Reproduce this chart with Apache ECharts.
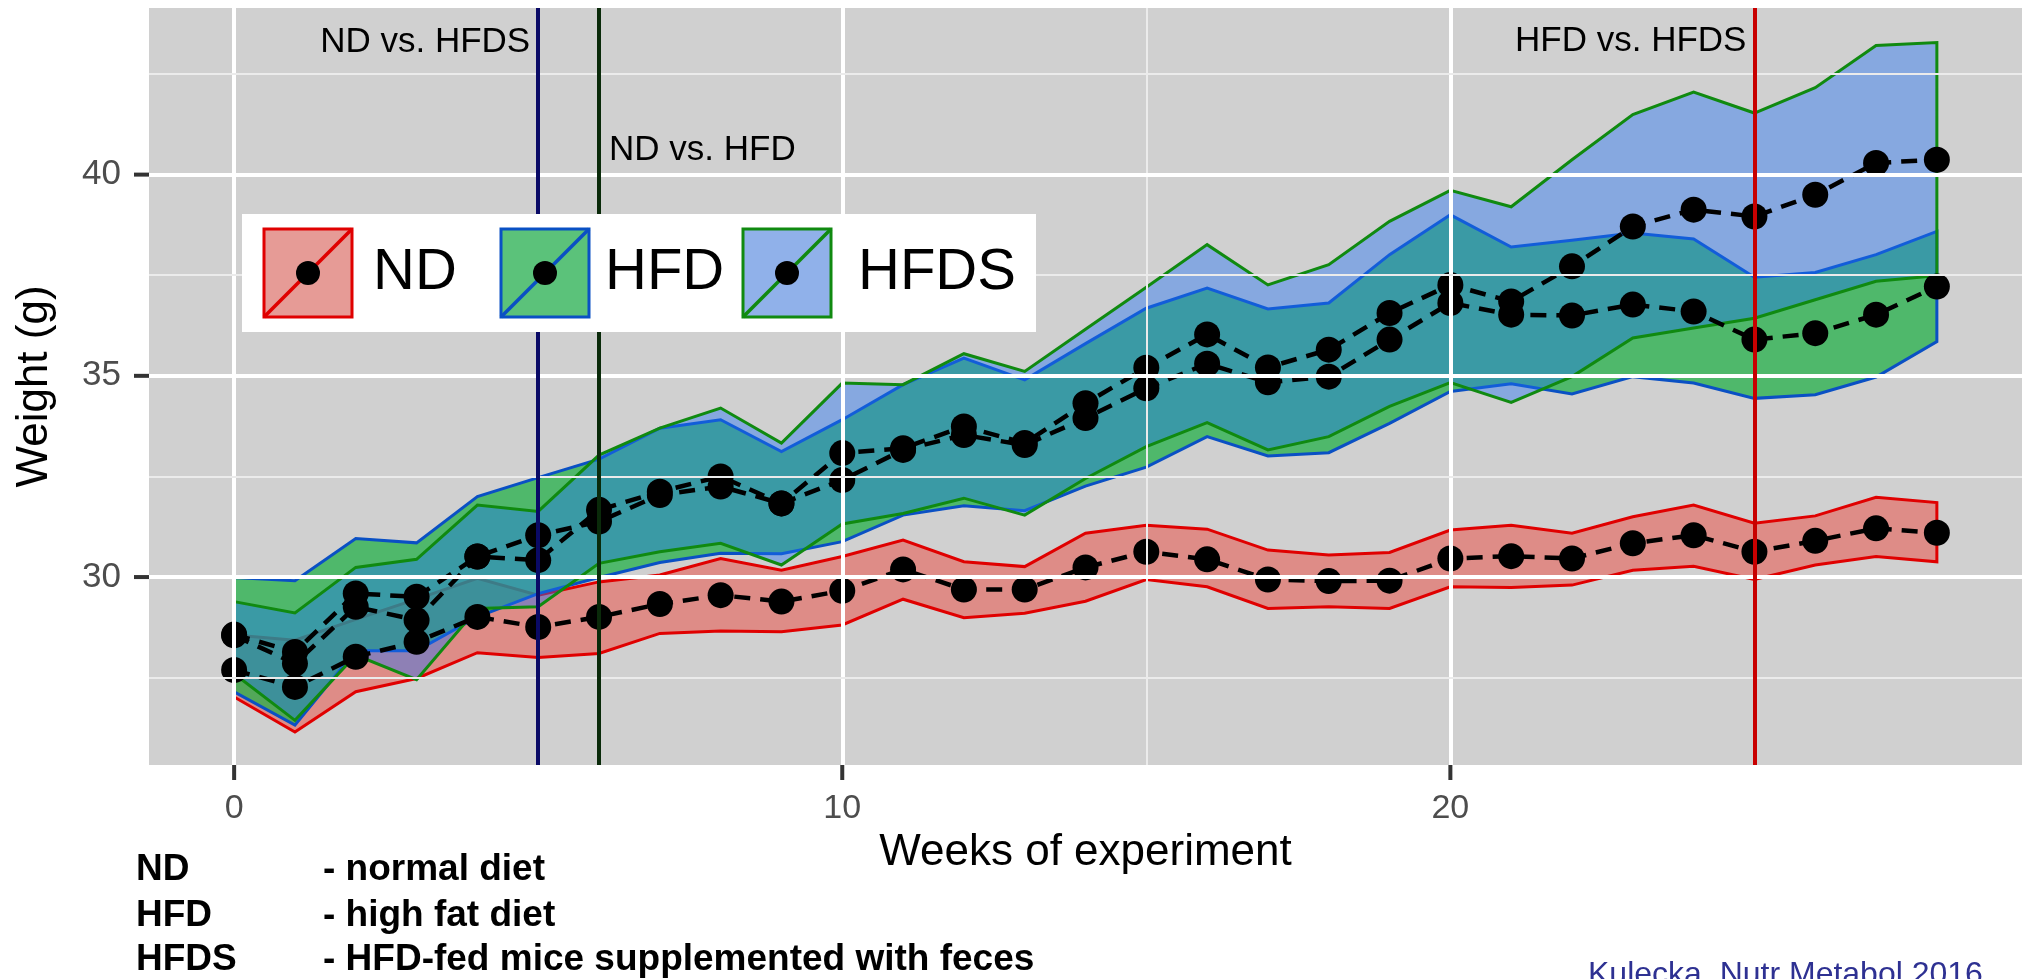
<!DOCTYPE html>
<html>
<head>
<meta charset="utf-8">
<title>Weight of mice</title>
<script src="https://cdn.jsdelivr.net/npm/echarts@6.0.0/dist/echarts.min.js"></script>
<style>
  html, body { margin: 0; padding: 0; background: #fff; }
  #chart { width: 2028px; height: 979px; }
</style>
</head>
<body>
<div id="chart"></div>
<script>
const FONT = '"Liberation Sans", Arial, Helvetica, sans-serif';

const weeks = [0, 1, 2, 3, 4, 5, 6, 7, 8, 9, 10, 11, 12, 13, 14, 15, 16, 17, 18, 19, 20, 21, 22, 23, 24, 25, 26, 27, 28];

const ndMean  = [27.69, 27.27, 28.02, 28.39, 29.01, 28.76, 29.01, 29.33, 29.55, 29.39, 29.66, 30.19, 29.69, 29.69, 30.24, 30.63, 30.44, 29.94, 29.90, 29.91, 30.46, 30.52, 30.46, 30.84, 31.04, 30.63, 30.90, 31.21, 31.10];
const ndUpper = [28.56, 28.43, 28.95, 29.45, 29.97, 29.55, 29.88, 30.05, 30.46, 30.17, 30.51, 30.92, 30.38, 30.26, 31.09, 31.29, 31.19, 30.67, 30.55, 30.61, 31.17, 31.29, 31.09, 31.50, 31.79, 31.34, 31.52, 31.98, 31.85];
const ndLower = [27.02, 26.15, 27.15, 27.48, 28.12, 28.00, 28.10, 28.60, 28.66, 28.64, 28.81, 29.45, 28.99, 29.10, 29.40, 29.94, 29.76, 29.22, 29.26, 29.22, 29.76, 29.74, 29.80, 30.17, 30.27, 29.94, 30.30, 30.51, 30.38];

const hfdMean  = [28.57, 28.14, 29.59, 29.51, 30.51, 31.04, 31.38, 32.04, 32.25, 31.83, 32.41, 33.16, 33.53, 33.28, 33.95, 34.69, 35.30, 34.84, 34.98, 35.90, 36.81, 36.52, 36.50, 36.77, 36.60, 35.90, 36.06, 36.52, 37.22];
const hfdUpper = [29.99, 29.91, 30.96, 30.85, 32.00, 32.47, 32.93, 33.70, 33.91, 33.12, 33.91, 34.78, 35.44, 34.90, 35.80, 36.68, 37.18, 36.66, 36.81, 38.01, 39.00, 38.20, 38.37, 38.55, 38.40, 37.45, 37.57, 38.01, 38.59];
const hfdLower = [27.15, 26.32, 28.17, 28.17, 29.01, 29.59, 29.99, 30.36, 30.59, 30.58, 30.88, 31.54, 31.77, 31.65, 32.26, 32.73, 33.49, 33.01, 33.09, 33.82, 34.61, 34.80, 34.55, 34.98, 34.82, 34.44, 34.53, 34.97, 35.85];

const hfdsMean  = [28.55, 27.85, 29.26, 28.93, 30.51, 30.42, 31.67, 32.12, 32.50, 31.83, 33.08, 33.20, 33.74, 33.33, 34.32, 35.20, 36.03, 35.21, 35.65, 36.56, 37.26, 36.85, 37.72, 38.71, 39.13, 38.96, 39.50, 40.29, 40.37];
const hfdsUpper = [29.39, 29.11, 30.24, 30.44, 31.79, 31.63, 33.03, 33.70, 34.20, 33.33, 34.82, 34.78, 35.55, 35.11, 36.16, 37.20, 38.26, 37.26, 37.76, 38.84, 39.61, 39.20, 40.37, 41.49, 42.05, 41.53, 42.16, 43.21, 43.28];
const hfdsLower = [27.60, 26.44, 28.06, 27.45, 29.22, 29.26, 30.34, 30.63, 30.84, 30.30, 31.32, 31.58, 31.96, 31.54, 32.45, 33.24, 33.84, 33.16, 33.49, 34.24, 34.83, 34.34, 34.98, 35.94, 36.19, 36.43, 36.89, 37.35, 37.49];

const xTicks = [0, 10, 20];
const xMinor = [5, 15, 25];
const yTicks = [30, 35, 40];
const yMinor = [27.5, 32.5, 37.5, 42.5];

// week of each significance line and its label
const vlineWeeks = [5, 6, 25];
const vlineLabels = ['ND vs. HFDS', 'ND vs. HFD', 'HFD vs. HFDS'];

const groups = ['ND', 'HFD', 'HFDS'];
const groupInfo = ['- normal diet', '- high fat diet', '- HFD-fed mice supplemented with feces'];
const citation = 'Kulecka, Nutr Metabol 2016';

const GRID = { left: 149, top: 8, width: 1873, height: 757 };

const chart = echarts.init(document.getElementById('chart'));

const pairs = (ys) => weeks.map((w, i) => [w, ys[i]]);

function ribbon(name, upper, lower, fill, stroke) {
  return {
    type: 'custom',
    name: name,
    z: 2,
    silent: true,
    data: [[weeks[0], lower[0]]],
    renderItem: function (params, api) {
      const pts = [];
      for (let i = 0; i < weeks.length; i++) pts.push(api.coord([weeks[i], upper[i]]));
      for (let i = weeks.length - 1; i >= 0; i--) pts.push(api.coord([weeks[i], lower[i]]));
      return {
        type: 'polygon',
        shape: { points: pts },
        style: { fill: fill, stroke: stroke, lineWidth: 3 }
      };
    }
  };
}

function meanLine(ys) {
  return {
    type: 'line', z: 3, silent: true, data: pairs(ys),
    symbol: 'none',
    lineStyle: { color: '#000', width: 4.5, type: [16, 10] }
  };
}

function meanPoints(ys) {
  return {
    type: 'scatter', z: 4, silent: true, data: pairs(ys),
    symbol: 'circle', symbolSize: 26,
    itemStyle: { color: '#000', opacity: 1 }
  };
}

const gridLines = [];
xTicks.forEach(v => gridLines.push({ xAxis: v, lineStyle: { color: '#fff', width: 4, type: 'solid' } }));
xMinor.forEach(v => gridLines.push({ xAxis: v, lineStyle: { color: '#ebebeb', width: 2, type: 'solid' } }));
yTicks.forEach(v => gridLines.push({ yAxis: v, lineStyle: { color: '#fff', width: 4, type: 'solid' } }));
yMinor.forEach(v => gridLines.push({ yAxis: v, lineStyle: { color: '#ebebeb', width: 2, type: 'solid' } }));

const vlineColors = ['#0a0a66', '#0a2a0a', '#c80000'];

const hiddenLine = { show: true, onZero: false, lineStyle: { color: 'rgba(0,0,0,0)' } };

chart.setOption({
  animation: false,
  backgroundColor: '#fff',
  grid: Object.assign({ show: true, backgroundColor: '#d0d0d0', borderWidth: 0 }, GRID),
  xAxis: {
    type: 'value', min: -1.4, max: 29.4,
    axisLine: hiddenLine,
    axisTick: { show: false },
    axisLabel: { customValues: xTicks, fontSize: 34, color: '#4d4d4d', margin: 27, fontFamily: FONT },
    splitLine: { show: false },
    name: 'Weeks of experiment', nameLocation: 'middle', nameGap: 62,
    nameTextStyle: { fontSize: 44, color: '#000', fontFamily: FONT }
  },
  yAxis: {
    type: 'value', min: 25.33, max: 44.14,
    axisLine: hiddenLine,
    axisTick: { show: false },
    axisLabel: { customValues: yTicks, fontSize: 35, color: '#4d4d4d', margin: 28, fontFamily: FONT },
    splitLine: { show: false },
    name: 'Weight (g)', nameLocation: 'middle', nameGap: 92, nameRotate: 90,
    nameTextStyle: { fontSize: 44, color: '#000', fontFamily: FONT }
  },
  series: [
    {
      type: 'line', z: 1, silent: true, data: [],
      markLine: { silent: true, symbol: 'none', label: { show: false }, data: gridLines, animation: false }
    },
    ribbon('ND', ndUpper, ndLower, 'rgba(233,84,75,0.55)', '#e00000'),
    ribbon('HFD', hfdUpper, hfdLower, 'rgba(36,176,73,0.75)', '#0a50c4'),
    ribbon('HFDS', hfdsUpper, hfdsLower, 'rgba(30,113,246,0.42)', '#108a10'),
    meanLine(ndMean), meanLine(hfdMean), meanLine(hfdsMean),
    meanPoints(ndMean), meanPoints(hfdMean), meanPoints(hfdsMean),
    {
      type: 'line', z: 5, silent: true, data: [],
      markLine: {
        silent: true, symbol: 'none', label: { show: false }, animation: false,
        data: vlineWeeks.map((w, i) => ({ xAxis: w, lineStyle: { color: vlineColors[i], width: 4, type: 'solid' } }))
      }
    }
  ]
});

// ticks, annotations, legend box and footnotes
const px = (w) => chart.convertToPixel({ xAxisIndex: 0 }, w);
const py = (v) => chart.convertToPixel({ yAxisIndex: 0 }, v);
const g = [];

const panelBottom = GRID.top + GRID.height;
const TICK = 15, TW = 4;
xTicks.forEach(v => g.push({ type: 'rect', z: 10,
  shape: { x: px(v) - TW / 2, y: panelBottom, width: TW, height: TICK },
  style: { fill: '#333' } }));
yTicks.forEach(v => g.push({ type: 'rect', z: 10,
  shape: { x: GRID.left - TICK, y: py(v) - TW / 2, width: TICK, height: TW },
  style: { fill: '#333' } }));

const annoY = [42, 150, 41];
const annoAlign = ['right', 'left', 'right'];
vlineLabels.forEach((t, i) => {
  const off = annoAlign[i] === 'right' ? -8 : 10;
  g.push({
    type: 'text', z: 20,
    x: px(vlineWeeks[i]) + off, y: annoY[i],
    style: { text: t, fill: '#000', font: '35px ' + FONT, align: annoAlign[i], verticalAlign: 'middle' }
  });
});

// legend
const keyFill = ['#e69b96', '#5bc27a', '#90b1ea'];
const keyStroke = ['#e00000', '#0a50c4', '#108a10'];
const keyX = [264, 501, 743];
const textX = [373, 605, 858];
const keyY = 229, keyS = 88;
g.push({ type: 'rect', z: 30, shape: { x: 242, y: 214, width: 794, height: 118 }, style: { fill: '#fff' } });
groups.forEach((name, i) => {
  g.push({ type: 'rect', z: 31, shape: { x: keyX[i], y: keyY, width: keyS, height: keyS },
    style: { fill: keyFill[i], stroke: keyStroke[i], lineWidth: 3 } });
  g.push({ type: 'line', z: 32, shape: { x1: keyX[i], y1: keyY + keyS, x2: keyX[i] + keyS, y2: keyY },
    style: { stroke: keyStroke[i], lineWidth: 3.5 } });
  g.push({ type: 'circle', z: 33, shape: { cx: keyX[i] + keyS / 2, cy: keyY + keyS / 2, r: 12 },
    style: { fill: '#000' } });
  g.push({ type: 'text', z: 33, x: textX[i], y: keyY + keyS / 2,
    style: { text: name, fill: '#000', font: '58px ' + FONT, align: 'left', verticalAlign: 'middle' } });
});

// footnotes
const rowY = [870, 916, 960];
groups.forEach((name, i) => {
  g.push({ type: 'text', z: 20, x: 136, y: rowY[i],
    style: { text: name, fill: '#000', font: 'bold 37px ' + FONT, verticalAlign: 'middle' } });
  g.push({ type: 'text', z: 20, x: 323, y: rowY[i],
    style: { text: groupInfo[i], fill: '#000', font: 'bold 37px ' + FONT, verticalAlign: 'middle' } });
});
g.push({ type: 'text', z: 20, x: 1588, y: 959,
  style: { text: citation, fill: '#2e3192', font: '32px ' + FONT, verticalAlign: 'top' } });

chart.setOption({ graphic: g });
</script>
</body>
</html>
